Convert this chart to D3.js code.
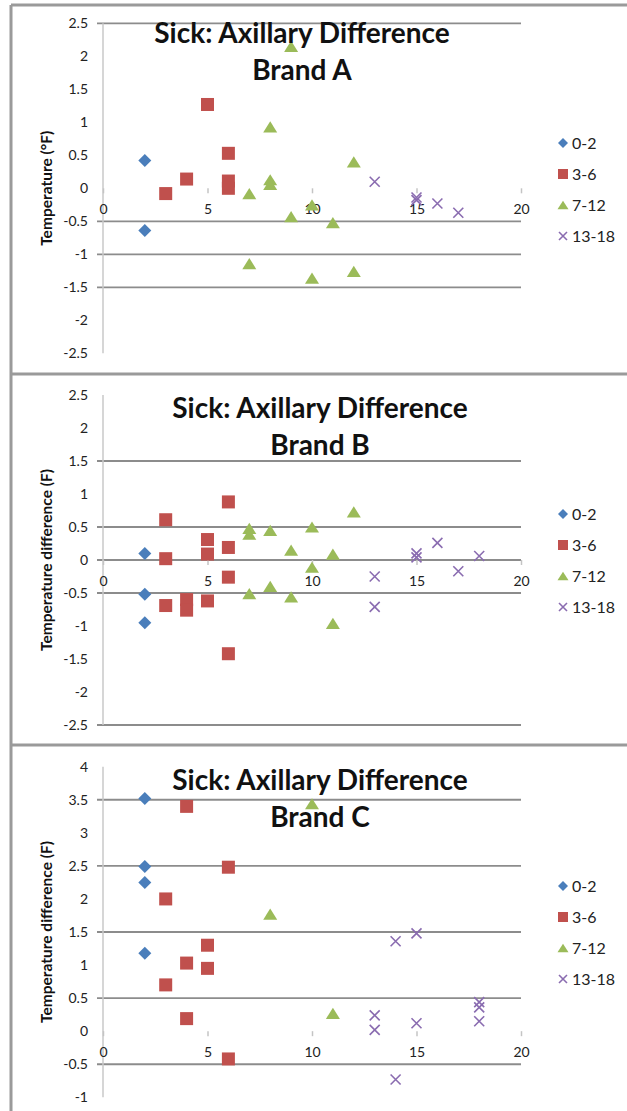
<!DOCTYPE html>
<html>
<head>
<meta charset="utf-8">
<script src="https://cdn.jsdelivr.net/npm/d3@7"></script>
<style>
  body { margin: 0; background: #fff; }
  svg { display: block; }
  text { font-family: Lato, 'Open Sans', sans-serif; }
</style>
</head>
<body>
<svg width="627" height="1111"></svg>
<script>
// age groups shown in the legend
const groups = ['0-2', '3-6', '7-12', '13-18']
const colors = ['#4a7ebb', '#c0504d', '#9bbb59', '#8a6cb0']
const xTicks = [0, 5, 10, 15, 20]

// Brand A: [age, difference]
const a02 = [[2, 0.42], [2, -0.64]]
const a36 = [[3, -0.08], [4, 0.14], [5, 1.27], [6, 0.53], [6, 0.11], [6, 0.0]]
const a712 = [[7, -0.08], [7, -1.14], [8, 0.93], [8, 0.13], [8, 0.06], [9, 2.15], [9, -0.43],
  [10, -0.25], [10, -1.36], [11, -0.52], [12, 0.40], [12, -1.26]]
const a1318 = [[13, 0.10], [15, -0.14], [15, -0.18], [16, -0.23], [17, -0.37]]

// Brand B
const b02 = [[2, 0.10], [2, -0.52], [2, -0.95]]
const b36 = [[3, 0.61], [3, 0.02], [3, -0.69], [4, -0.60], [4, -0.76], [5, 0.31], [5, 0.09],
  [5, -0.62], [6, 0.88], [6, 0.19], [6, -0.26], [6, -1.42]]
const b712 = [[7, 0.48], [7, 0.39], [7, -0.51], [8, 0.45], [8, -0.40], [9, 0.15], [9, -0.56],
  [10, 0.50], [10, -0.11], [11, 0.09], [11, -0.96], [12, 0.73]]
const b1318 = [[13, -0.25], [13, -0.71], [15, 0.10], [15, 0.04], [16, 0.26], [17, -0.17], [18, 0.06]]

// Brand C
const c02 = [[2, 3.52], [2, 2.49], [2, 2.25], [2, 1.18]]
const c36 = [[3, 2.0], [3, 0.70], [4, 3.40], [4, 1.03], [4, 0.19], [5, 1.30], [5, 0.95],
  [6, 2.48], [6, -0.42]]
const c712 = [[8, 1.77], [10, 3.44], [11, 0.27]]
const c1318 = [[13, 0.24], [13, 0.02], [14, 1.36], [14, -0.73], [15, 1.48], [15, 0.12],
  [18, 0.44], [18, 0.36], [18, 0.15]]

// y ticks and the gridlines still visible in each panel
const ticksAB = d3.range(-2.5, 2.51, 0.5)
const ticksC = d3.range(-1, 4.01, 0.5)
const gridA = [2.5, -0.5, -1, -1.5]
const gridB = [1.5, 0.5, 0, -0.5, -2.5]
const gridC = [3.5, 2.5, 1.5, 0.5, -0.5]

const panels = [
  { brand: 'Brand A', yTitle: 'Temperature (°F)', ticks: ticksAB, grid: gridA,
    series: [a02, a36, a712, a1318], top: 23.3, bottom: 353.3, titleX: 302, titleY: 43, legendY: 143 },
  { brand: 'Brand B', yTitle: 'Temperature difference (F)', ticks: ticksAB, grid: gridB,
    series: [b02, b36, b712, b1318], top: 395, bottom: 725, titleX: 320, titleY: 418, legendY: 514 },
  { brand: 'Brand C', yTitle: 'Temperature difference (F)', ticks: ticksC, grid: gridC,
    series: [c02, c36, c712, c1318], top: 766.7, bottom: 1097.3, titleX: 320, titleY: 790, legendY: 886 }
]

const svg = d3.select('svg')
const x = d3.scaleLinear().domain([0, 20]).range([103, 521])

// marker shapes, centred on their box like the spreadsheet markers
function marker(sel, i, s) {
  const c = colors[i]
  if (i === 0) {
    sel.append('path').attr('d', `M0,${-s / 2}L${s / 2},0L0,${s / 2}L${-s / 2},0Z`).attr('fill', c)
  } else if (i === 1) {
    sel.append('rect').attr('x', -s / 2).attr('y', -s / 2).attr('width', s).attr('height', s).attr('fill', c)
  } else if (i === 2) {
    const h = s * 0.86
    sel.append('path').attr('d', `M0,${-h / 2}L${s / 2 + 0.5},${h / 2}L${-s / 2 - 0.5},${h / 2}Z`).attr('fill', c)
  } else {
    const r = s / 2 - 1
    sel.append('path').attr('d', `M${-r},${-r}L${r},${r}M${-r},${r}L${r},${-r}`)
      .attr('stroke', c).attr('stroke-width', 1.6).attr('fill', 'none')
  }
}

panels.forEach((p) => {
  const dom = d3.extent(p.ticks)
  const y = d3.scaleLinear().domain(dom).range([p.bottom, p.top])
  const g = svg.append('g')

  // gridlines
  g.selectAll('.grid')
    .data(p.grid)
    .enter()
    .append('line')
    .attr('x1', 97).attr('x2', x(20))
    .attr('y1', (d) => y(d)).attr('y2', (d) => y(d))
    .style('stroke', '#8c8c8c')
    .style('stroke-width', '1.8px')

  // y axis
  const yAxis = g.append('g').attr('transform', `translate(${x(0)},0)`)
    .call(d3.axisLeft(y).tickValues(p.ticks).tickSize(0).tickPadding(15).tickFormat(String))
  yAxis.select('.domain').remove()
  yAxis.selectAll('text').style('font-size', '14px').style('fill', '#222')
  g.append('line')
    .attr('x1', x(0)).attr('x2', x(0))
    .attr('y1', p.top).attr('y2', p.bottom)
    .style('stroke', '#c8c8c8').style('stroke-width', '1.5px')

  // x axis sits on zero
  const xAxis = g.append('g').attr('transform', `translate(0,${y(0)})`)
    .call(d3.axisBottom(x).tickValues(xTicks).tickSize(5).tickPadding(11))
  xAxis.select('.domain').remove()
  xAxis.selectAll('line').style('stroke', '#c4c4c4').style('stroke-width', '1.5px')
  xAxis.selectAll('text').style('font-size', '14px').style('fill', '#222')

  // points
  p.series.forEach((pts, i) => {
    g.selectAll('.s' + i)
      .data(pts)
      .enter()
      .append('g')
      .attr('transform', (d) => `translate(${x(d[0])},${y(d[1])})`)
      .each(function () { marker(d3.select(this), i, i === 3 ? 12 : 13) })
  })

  // title
  const t = g.append('text')
    .attr('x', p.titleX).attr('y', p.titleY)
    .attr('text-anchor', 'middle')
    .style('font-size', '28px').style('font-weight', 'bold').style('fill', '#111')
  t.append('tspan').attr('x', p.titleX).text('Sick: Axillary Difference')
  t.append('tspan').attr('x', p.titleX).attr('dy', 36.5).text(p.brand)

  // y axis title
  g.append('text')
    .attr('transform', `translate(52,${(p.top + p.bottom) / 2}) rotate(-90)`)
    .attr('text-anchor', 'middle')
    .style('font-size', '15.5px').style('font-weight', 'bold').style('fill', '#111')
    .text(p.yTitle)

  // legend
  const lg = g.selectAll('.lg')
    .data(groups)
    .enter()
    .append('g')
    .attr('transform', (d, i) => `translate(563,${p.legendY + i * 31})`)
  lg.each(function (d, i) { marker(d3.select(this), i, 10) })
  lg.append('text')
    .attr('x', 9).attr('dy', '0.36em')
    .style('font-size', '16px').style('fill', '#222')
    .text((d) => d)
})

// panel frames
const frame = d3.path()
frame.moveTo(11, 5); frame.lineTo(627, 5)
frame.moveTo(11, 5); frame.lineTo(11, 1111)
frame.moveTo(11, 374); frame.lineTo(627, 374)
frame.moveTo(11, 745); frame.lineTo(627, 745)
svg.append('path').attr('d', frame.toString())
  .style('fill', 'none').style('stroke', '#9a9a9a').style('stroke-width', '3px')
</script>
</body>
</html>
